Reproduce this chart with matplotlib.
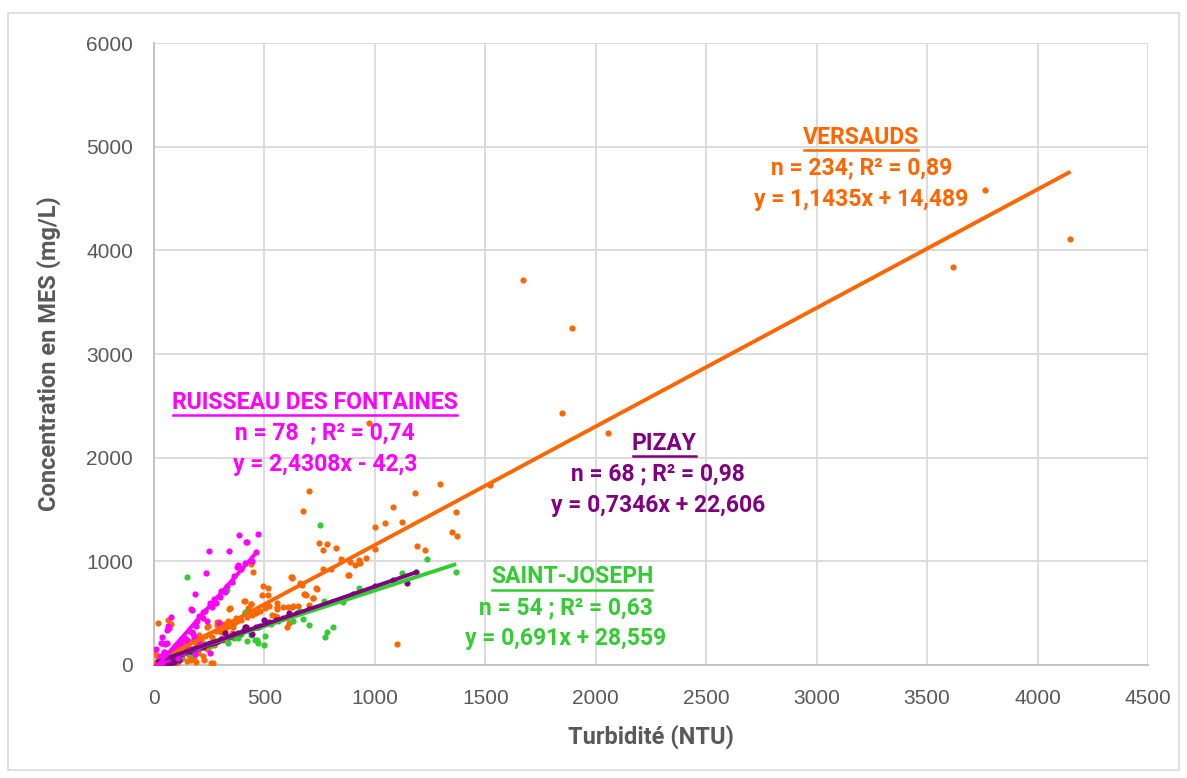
import matplotlib
matplotlib.use("Agg")
import matplotlib.pyplot as plt
from matplotlib.patches import Rectangle
from matplotlib.lines import Line2D
import numpy as np

# ---------------- data ----------------
x_ticks = [0, 500, 1000, 1500, 2000, 2500, 3000, 3500, 4000, 4500]
y_ticks = [0, 1000, 2000, 3000, 4000, 5000, 6000]

versauds_x = [1672, 1894, 1845, 2056, 3616, 3763, 4149, 1522, 975,
              1295, 1183, 1084, 1045, 1002, 1123, 1368, 1347, 1371, 1190, 1229,
              999, 960, 933, 912, 888, 846, 885, 822, 785, 748, 764, 803,
              703, 673, 734, 719, 703, 679, 690, 661, 619, 625, 631, 652, 586,
              605, 559, 555, 534, 548, 516, 492, 516, 1099, 604, 450, 440, 411,
              341, 287, 359, 239, 18, 62, 75, 409, 439, 346, 285, 226, 267, 489,
              624, 5, 0, 245, 293, 426, 136, 166, 260, 669, 685, 737, 722, 625,
              558, 556, 613, 438, 930, 764, 880, 930,
              30, 45, 60, 80, 98, 118, 143, 152, 172, 188, 203, 214, 232, 251,
              263, 282, 305, 322, 338, 362, 378, 396, 421, 444, 462, 478, 503,
              522, 70, 92, 110, 128, 158, 183, 198, 221, 149, 102, 192, 242,
              272, 311, 352, 21, 36, 51, 12, 185, 205, 315, 335, 372]
versauds_y = [3716, 3247, 2427, 2237, 3835, 4580, 4108, 1736, 2337,
              1745, 1656, 1521, 1366, 1334, 1376, 1475, 1286, 1244, 1148, 1106,
              1122, 1035, 981, 961, 993, 1019, 865, 1125, 1167, 1173, 923, 923,
              1675, 1488, 740, 643, 582, 685, 672, 788, 852, 840, 569, 572, 562,
              555, 595, 560, 482, 470, 745, 762, 672, 202, 369, 900, 975, 617,
              543, 418, 369, 369, 408, 434, 395, 620, 588, 547, 386, 48, 19, 675,
              846, 116, 138, 376, 415, 547, 234, 48, 22, 771, 688, 736, 643, 562,
              537, 466, 402, 588, 981, 1110, 868, 1010,
              58, 121, 92, 148, 133, 176, 162, 205, 228, 214, 262, 238, 281, 296,
              271, 327, 314, 352, 378, 402, 425, 438, 462, 487, 505, 521, 548,
              566, 33, 61, 42, 72, 101, 63, 118, 84, 39, 22, 31, 152,
              193, 241, 305, 41, 20, 52, 83, 260, 290, 400, 420, 455]

pizay_x = [1147, 1185, 498, 610, 413, 417, 442, 320, 350, 302, 281, 262,
           243, 221, 199, 182, 161, 141, 122, 101, 83, 62, 43, 31, 19, 9, 52,
           71, 92, 113, 362, 381, 402, 428, 461, 522, 551, 583, 648, 702, 805,
           903, 1002, 1080, 133, 172, 212, 252, 291, 335, 15, 25, 38, 57, 66,
           77, 88, 105, 150, 190, 230, 270, 310, 390, 470, 480, 560, 600]
pizay_y = [794, 893, 434, 505, 363, 369, 299, 305, 280, 250, 226, 212,
           201, 178, 163, 151, 132, 121, 103, 92, 71, 62, 41, 33, 21, 11, 14,
           2, 33, 52, 301, 312, 330, 341, 362, 410, 432, 451, 502, 541, 612,
           686, 758, 816, 118, 150, 178, 210, 236, 268, 18, 30, 45, 55, 70,
           80, 85, 95, 135, 165, 195, 225, 255, 310, 365, 375, 430, 460]

rf_x = [471, 386, 421, 415, 341, 248, 236, 184, 169, 171, 375, 380, 414, 299,
        254, 220, 205, 230, 75, 63, 70, 58, 36, 50, 38, 58, 32, 181, 175, 171,
        254, 186, 151, 293, 240, 120, 140, 160, 190, 262, 281, 322, 351, 332,
        100, 90, 110, 60, 40, 20, 15, 30, 25, 10, 45, 80, 130, 200, 210, 150,
        271, 302, 442, 462, 395, 361, 222, 196, 12, 18, 27, 42, 55, 65, 85, 95,
        115, 125]
rf_y = [1263, 1254, 1183, 1190, 1099, 1099, 890, 685, 537, 530, 948, 960, 981,
        659, 595, 514, 470, 520, 460, 376, 354, 340, 273, 202, 215, 209, 209,
        273, 300, 321, 119, 103, 193, 408, 420, 200, 260, 330, 380, 560, 600,
        700, 800, 760, 150, 110, 70, 60, 40, 10, 30, 0, 90, 150, 130, 100, 120,
        160, 200, 240, 640, 710, 1000, 1090, 930, 860, 450, 420, 5, 12, 25, 50,
        80, 100, 140, 170, 210, 250]

sj_x = [752, 1238, 1368, 1123, 927, 857, 770, 673, 700, 812, 785, 776, 148,
        503, 498, 471, 468, 456, 411, 412, 343, 334, 380, 395, 420, 440, 628,
        560, 600, 530, 660, 301, 252, 203, 152, 101, 61, 31, 122, 181, 91, 329,
        22, 45, 78, 230, 275, 360]
sj_y = [1347, 1025, 900, 884, 742, 610, 620, 441, 386, 369, 318, 267, 852,
        280, 193, 215, 241, 241, 498, 514, 273, 209, 260, 300, 235, 290, 427,
        420, 460, 400, 520, 240, 182, 151, 118, 92, 63, 41, 62, 93, 32, 726,
        20, 48, 70, 205, 230, 262]

# regression coefficients (slope, intercept) as printed on the chart
versauds_fit = (1.1435, 14.489)
pizay_fit = (0.7346, 22.606)
rf_fit = (2.4308, -42.3)
sj_fit = (0.691, 28.559)

C_VER = "#FF6600"
C_PIZ = "#800080"
C_RF = "#FF00FF"
C_SJ = "#33CC33"

LABEL_FONT = ["Liberation Sans Narrow", "Roboto", "DejaVu Sans"]
TICK_FONT = ["Liberation Sans", "DejaVu Sans"]

# ---------------- figure ----------------
fig = plt.figure(figsize=(11.87, 7.78), dpi=100)
ax = fig.add_axes([154 / 1187, 1 - 665 / 778, (1148 - 154) / 1187, (665 - 43) / 778])

# outer chart border
fig.patches.append(Rectangle((8 / 1187, 8 / 778), (1179 - 8) / 1187, (765 - 8) / 778,
                             transform=fig.transFigure, fill=False,
                             edgecolor="#D9D9D9", linewidth=1.2))

ms = 20
ax.scatter(versauds_x, versauds_y, s=ms, color=C_VER, zorder=3, linewidths=0)
ax.scatter(sj_x, sj_y, s=ms, color=C_SJ, zorder=3, linewidths=0)
ax.scatter(pizay_x, pizay_y, s=ms, color=C_PIZ, zorder=3, linewidths=0)
ax.scatter(rf_x, rf_y, s=ms, color=C_RF, zorder=3, linewidths=0)


def trend(xs, fit, color):
    xr = np.array([min(xs), max(xs)], dtype=float)
    ax.plot(xr, fit[0] * xr + fit[1], color=color, lw=2.8, zorder=4,
            solid_capstyle="butt")


trend(versauds_x, versauds_fit, C_VER)
trend(sj_x, sj_fit, C_SJ)
trend(pizay_x, pizay_fit, C_PIZ)
trend(rf_x, rf_fit, C_RF)

ax.set_xlim(0, 4500)
ax.set_ylim(0, 6000)
ax.set_xticks(x_ticks)
ax.set_yticks(y_ticks)
ax.grid(True, color="#D9D9D9", lw=1.3, zorder=0)
ax.set_axisbelow(True)
for s in ["top", "right"]:
    ax.spines[s].set_visible(False)
for s in ["left", "bottom"]:
    ax.spines[s].set_color("#BFBFBF")
    ax.spines[s].set_linewidth(1.3)
ax.tick_params(length=0, labelsize=15, labelcolor="#595959")
ax.tick_params(axis="y", pad=15)
ax.tick_params(axis="x", pad=17)
for lab in ax.get_xticklabels() + ax.get_yticklabels():
    lab.set_family(TICK_FONT)

ax.set_xlabel("Turbidité (NTU)", fontsize=17, fontweight="bold", color="#595959",
              family=LABEL_FONT, labelpad=12)
ax.set_ylabel("Concentration en MES (mg/L)", fontsize=17, fontweight="bold",
              color="#595959", family=LABEL_FONT, labelpad=18)

# annotations: title x, lines x, top y
annots = [
    ("VERSAUDS", "n = 234; R² = 0,89", "y = 1,1435x + 14,489", C_VER, 3202, 3202, 5091),
    ("PIZAY", "n = 68 ; R² = 0,98", "y = 0,7346x + 22,606", C_PIZ, 2310, 2283, 2141),
    ("RUISSEAU DES FONTAINES", "n = 78  ; R² = 0,74", "y = 2,4308x - 42,3", C_RF, 729, 775, 2536),
    ("SAINT-JOSEPH", "n = 54 ; R² = 0,63", "y = 0,691x + 28,559", C_SJ, 1893, 1865, 849),
]
titles = []
step = 299
fs = 16.5
for title, l1, l2, col, xt, xl, yc in annots:
    t = ax.text(xt, yc, title, ha="center", va="center", fontsize=fs,
                fontweight="bold", color=col, family=LABEL_FONT, zorder=5)
    titles.append((t, col))
    ax.text(xl, yc - step, l1, ha="center", va="center", fontsize=fs,
            fontweight="bold", color=col, family=LABEL_FONT, zorder=5)
    ax.text(xl, yc - 2 * step, l2, ha="center", va="center", fontsize=fs,
            fontweight="bold", color=col, family=LABEL_FONT, zorder=5)

fig.canvas.draw()
r = fig.canvas.get_renderer()
for t, col in titles:
    bb = t.get_window_extent(r).transformed(fig.transFigure.inverted())
    yline = bb.y0 - 1.5 / 778
    fig.add_artist(Line2D([bb.x0 + 1 / 1187, bb.x1 - 1 / 1187], [yline, yline],
                          transform=fig.transFigure, color=col, lw=1.8))

fig.savefig("out.png", dpi=100)
